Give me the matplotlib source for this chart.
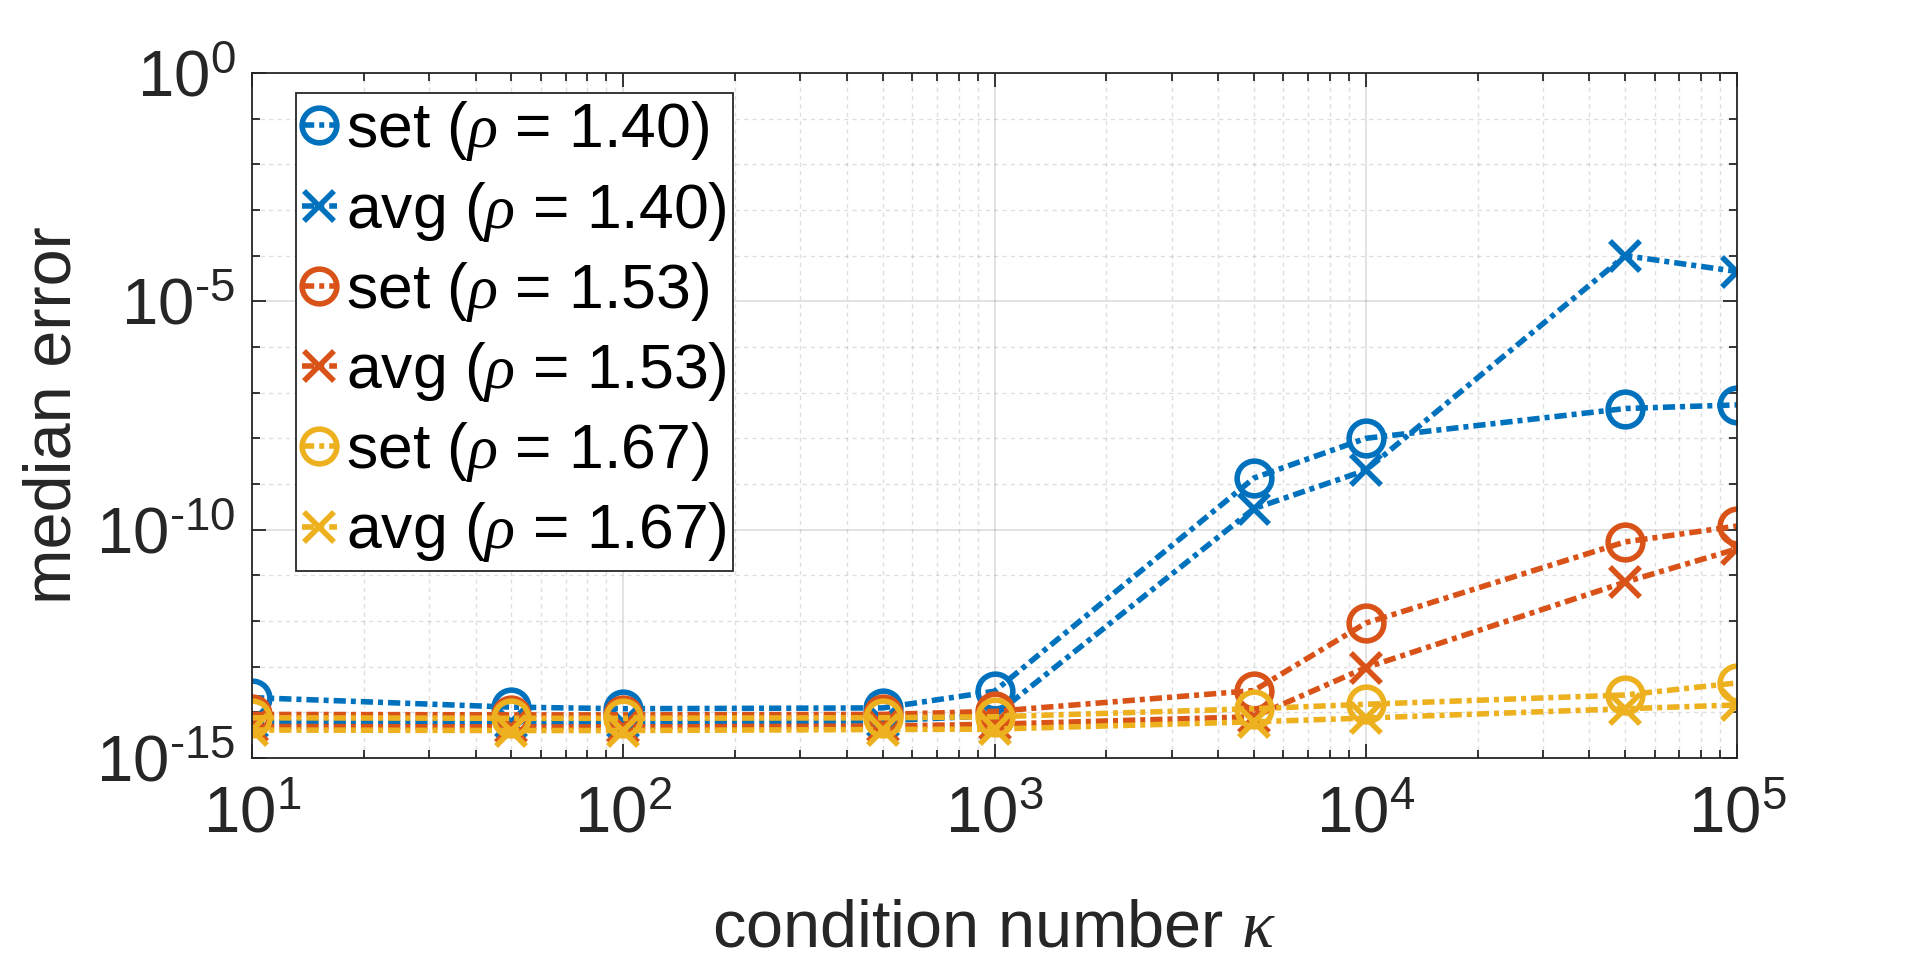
import numpy as np
import matplotlib.pyplot as plt
from matplotlib.ticker import FixedLocator, LogLocator, NullFormatter, FuncFormatter

plt.rcParams["font.family"] = ["Liberation Sans", "DejaVu Sans"]
plt.rcParams["mathtext.fontset"] = "custom"
plt.rcParams["mathtext.rm"] = "Liberation Sans"
plt.rcParams["mathtext.it"] = "Liberation Serif:italic"
plt.rcParams["axes.unicode_minus"] = False

# condition numbers
kappa = [10, 50, 100, 500, 1000, 5000, 10000, 50000, 100000]

# median errors
set_140 = [2.1e-14, 1.3e-14, 1.2e-14, 1.25e-14, 2.9e-14, 1.35e-9, 1.0e-8, 4.5e-8, 5.4e-8]
avg_140 = [6.2e-15, 6.0e-15, 6.0e-15, 6.5e-15, 8.5e-15, 2.9e-10, 2.0e-9, 1.0e-4, 4.5e-5]
set_153 = [9.0e-15, 8.8e-15, 8.8e-15, 9.0e-15, 1.05e-14, 3.0e-14, 9.0e-13, 5.4e-11, 1.2e-10]
avg_153 = [4.9e-15, 4.8e-15, 4.8e-15, 5.0e-15, 5.5e-15, 8.0e-15, 9.5e-14, 7.1e-12, 3.8e-11]
set_167 = [7.6e-15, 7.4e-15, 7.4e-15, 7.6e-15, 8.0e-15, 1.2e-14, 1.5e-14, 2.4e-14, 4.4e-14]
avg_167 = [4.1e-15, 4.0e-15, 4.0e-15, 4.2e-15, 4.3e-15, 6.2e-15, 7.5e-15, 1.2e-14, 1.45e-14]

series = [
    (set_140, "o", "#0072BD", r"set ($\rho$ = 1.40)"),
    (avg_140, "x", "#0072BD", r"avg ($\rho$ = 1.40)"),
    (set_153, "o", "#D95319", r"set ($\rho$ = 1.53)"),
    (avg_153, "x", "#D95319", r"avg ($\rho$ = 1.53)"),
    (set_167, "o", "#EDB120", r"set ($\rho$ = 1.67)"),
    (avg_167, "x", "#EDB120", r"avg ($\rho$ = 1.67)"),
]

fig = plt.figure(figsize=(19.2, 9.63), dpi=100)
# axes box: x 252..1737 px, y 73..758 px
ax = fig.add_axes([252 / 1920, 1 - 758 / 963, 1485 / 1920, 685 / 963])

for y, m, c, lab in series:
    ms = 25 if m == "o" else 22
    ax.plot(kappa, y, linestyle=(0, (2.2, 0.9, 0.9, 0.9)), color=c, linewidth=4.0,
            marker=m, markersize=ms, markerfacecolor="none", markeredgewidth=4.0,
            label=lab)

ax.set_xscale("log")
ax.set_yscale("log")
ax.set_xlim(10, 1e5)
ax.set_ylim(1e-15, 1)


def pow10(v, pos):
    e = int(round(np.log10(v)))
    s = str(abs(e))
    if e < 0:
        s = "\u2010" + s
    return r"$\mathdefault{10^{%s}}$" % s


ax.yaxis.set_major_locator(FixedLocator([1e-15, 1e-10, 1e-5, 1]))
ax.yaxis.set_minor_locator(FixedLocator([10.0 ** k for k in range(-15, 1)]))
ax.yaxis.set_major_formatter(FuncFormatter(pow10))
ax.yaxis.set_minor_formatter(NullFormatter())
ax.xaxis.set_major_locator(LogLocator(base=10, numticks=10))
ax.xaxis.set_minor_locator(LogLocator(base=10, subs=np.arange(2, 10), numticks=20))
ax.xaxis.set_major_formatter(FuncFormatter(pow10))
ax.xaxis.set_minor_formatter(NullFormatter())

ax.grid(True, which="major", color="#262626", alpha=0.15, linewidth=1.2)
ax.grid(True, which="minor", color="#262626", alpha=0.15, linewidth=1.0, linestyle=(0, (3, 3)))

ax.tick_params(which="both", direction="in", top=True, right=True, colors="#262626",
               labelcolor="#262626", labelsize=47, width=1.3)
ax.tick_params(which="major", length=10)
ax.tick_params(which="minor", length=6)
ax.tick_params(axis="x", which="major", pad=20)
ax.tick_params(axis="y", which="major", pad=12)
for s in ax.spines.values():
    s.set_color("#262626")
    s.set_linewidth(1.3)

ax.set_xlabel(r"condition number $\kappa$", fontsize=48, color="#262626")
ax.xaxis.set_label_coords(0.5, -0.205)
ax.xaxis.label.set_va("top")
ax.set_ylabel("median error", fontsize=48, color="#262626")
ax.yaxis.set_label_coords(-0.113, 0.5)

leg = ax.legend(loc="upper left", bbox_to_anchor=(44 / 1485, 1 - 20 / 685), fontsize=45,
                handlelength=0.55, handletextpad=0.15, borderpad=0.1,
                labelspacing=0.26, fancybox=False, framealpha=1, edgecolor="#262626",
                borderaxespad=0)
leg.get_frame().set_linewidth(1.3)
for t in leg.get_texts():
    t.set_color("black")
for h in leg.legend_handles:
    h.set_markeredgewidth(4.0)

fig.savefig("out.png", dpi=100)
